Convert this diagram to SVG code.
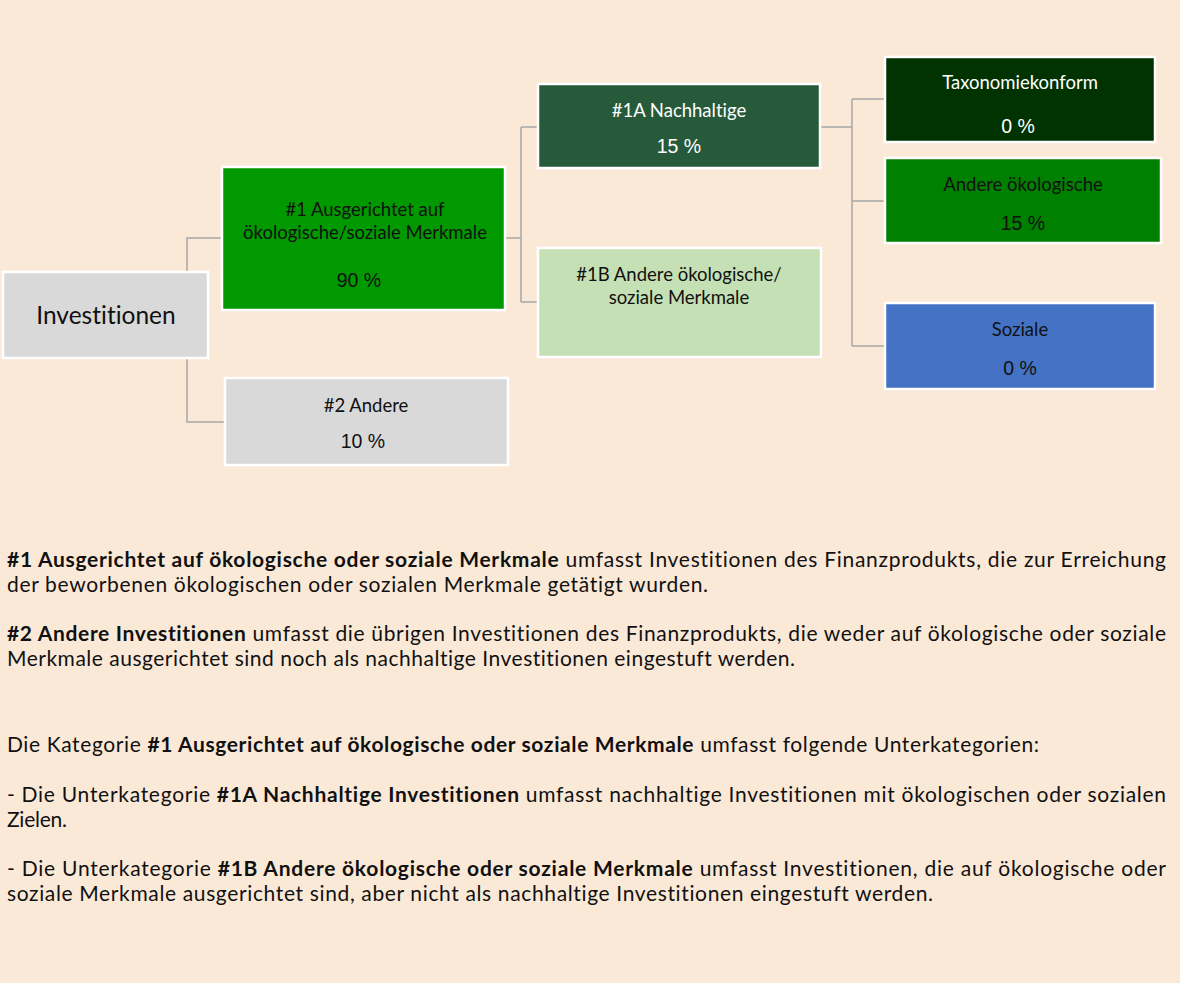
<svg xmlns="http://www.w3.org/2000/svg" width="1180" height="983" viewBox="0 0 1180 983">
<style>
text{font-variant-ligatures:none}
.bx{stroke:#ffffff;stroke-width:2.5}
.lb{font-family:Lato,"Open Sans","Liberation Sans",sans-serif;font-size:18.5px;text-anchor:middle;fill:#111}
.pc{font-family:"Liberation Sans",Arial,sans-serif;font-size:19.5px;text-anchor:middle;fill:#111}
.w{fill:#ffffff}
.cn{fill:none;stroke:#a6a6a6;stroke-width:1.5}
.tx{font-family:Lato,"Open Sans","Liberation Sans",sans-serif;font-size:21px;fill:#111}
.b{font-weight:bold}
</style>
<rect x="0" y="0" width="1180" height="983" fill="#fbe9d8"/>
<g id="connectors">
<path class="cn" d="M222 238 H187 V422 H225"/>
<path class="cn" d="M505 238 H521 M521 127 V302 M521 127 H538 M521 302 H538"/>
<path class="cn" d="M820 127 H852 M852 99 V346 M852 99 H885 M852 201 H885 M852 346 H885"/>
</g>
<g id="investitionen">
<rect class="bx" x="3" y="272" width="205" height="86" fill="#d9d9d9"/>
<text class="lb" x="106" y="324" style="font-size:24.5px" fill="#222">Investitionen</text>
</g>
<g id="n1">
<rect class="bx" x="222" y="167" width="283" height="143" fill="#009900"/>
<text class="lb" x="365" y="216">#1 Ausgerichtet auf</text>
<text class="lb" x="365" y="239">ökologische/soziale Merkmale</text>
<text class="pc" x="359" y="287">90 %</text>
</g>
<g id="n2">
<rect class="bx" x="225" y="378" width="283" height="87" fill="#d9d9d9"/>
<text class="lb" x="366" y="412">#2 Andere</text>
<text class="pc" x="363" y="448">10 %</text>
</g>
<g id="n1a">
<rect class="bx" x="538" y="84" width="282" height="84" fill="#265a3a"/>
<text class="lb w" x="679" y="117">#1A Nachhaltige</text>
<text class="pc w" x="679" y="153">15 %</text>
</g>
<g id="n1b">
<rect class="bx" x="538" y="248" width="283" height="109" fill="#c5e0b4"/>
<text class="lb" x="679" y="281">#1B Andere ökologische/</text>
<text class="lb" x="679" y="304">soziale Merkmale</text>
</g>
<g id="taxonomie">
<rect class="bx" x="885" y="57" width="270" height="85" fill="#013300"/>
<text class="lb w" x="1020" y="89">Taxonomiekonform</text>
<text class="pc w" x="1018" y="133">0 %</text>
</g>
<g id="andere-oeko">
<rect class="bx" x="885" y="158" width="276" height="85" fill="#008000"/>
<text class="lb" x="1023" y="191">Andere ökologische</text>
<text class="pc" x="1023" y="230">15 %</text>
</g>
<g id="soziale">
<rect class="bx" x="885" y="303" width="270" height="86" fill="#4472c4"/>
<text class="lb" x="1020" y="336">Soziale</text>
<text class="pc" x="1020" y="375">0 %</text>
</g>
<g id="text">
<text class="tx" x="7" y="567" textLength="1159" lengthAdjust="spacing"><tspan class="b">#1 Ausgerichtet auf ökologische oder soziale Merkmale</tspan> umfasst Investitionen des Finanzprodukts, die zur Erreichung</text>
<text class="tx" x="7" y="592" textLength="701" lengthAdjust="spacing">der beworbenen ökologischen oder sozialen Merkmale getätigt wurden.</text>
<text class="tx" x="7" y="641" textLength="1159" lengthAdjust="spacing"><tspan class="b">#2 Andere Investitionen</tspan> umfasst die übrigen Investitionen des Finanzprodukts, die weder auf ökologische oder soziale</text>
<text class="tx" x="7" y="666" textLength="788" lengthAdjust="spacing">Merkmale ausgerichtet sind noch als nachhaltige Investitionen eingestuft werden.</text>
<text class="tx" x="7" y="752" textLength="1032" lengthAdjust="spacing">Die Kategorie <tspan class="b">#1 Ausgerichtet auf ökologische oder soziale Merkmale</tspan> umfasst folgende Unterkategorien:</text>
<text class="tx" x="7" y="802" textLength="1159" lengthAdjust="spacing">- Die Unterkategorie <tspan class="b">#1A Nachhaltige Investitionen</tspan> umfasst nachhaltige Investitionen mit ökologischen oder sozialen</text>
<text class="tx" x="7" y="827" textLength="60" lengthAdjust="spacing">Zielen.</text>
<text class="tx" x="7" y="876" textLength="1159" lengthAdjust="spacing">- Die Unterkategorie <tspan class="b">#1B Andere ökologische oder soziale Merkmale</tspan> umfasst Investitionen, die auf ökologische oder</text>
<text class="tx" x="7" y="901" textLength="926" lengthAdjust="spacing">soziale Merkmale ausgerichtet sind, aber nicht als nachhaltige Investitionen eingestuft werden.</text>
</g>
</svg>
